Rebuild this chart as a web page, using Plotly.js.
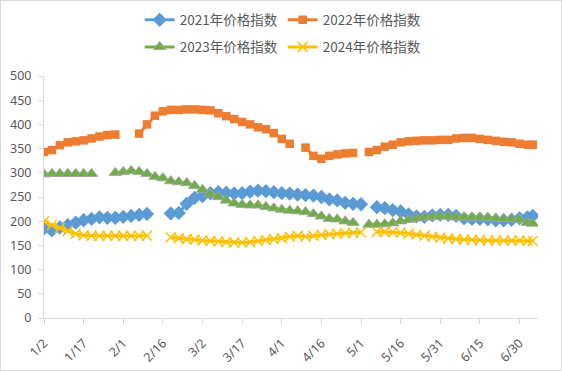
<!DOCTYPE html>
<html>
<head>
<meta charset="utf-8">
<script src="https://cdn.plot.ly/plotly-3.0.1.min.js"></script>
<style>
html,body{margin:0;padding:0;background:#fff;}
#wrap{position:relative;width:562px;height:371px;}
#chart{width:562px;height:371px;}
#frame{position:absolute;left:0;top:0;width:562px;height:371px;box-sizing:border-box;border:1px solid #D9D9D9;pointer-events:none;}
</style>
</head>
<body>
<div id="wrap"><div id="chart"></div><div id="frame"></div></div>
<script>
// Category dates (month/day) shared by all series
const dates = ['1/2','1/5','1/8','1/11','1/14','1/17','1/20','1/23','1/26','1/29','2/1','2/4','2/7','2/10','2/13','2/16','2/19','2/22','2/25','2/28','3/2','3/5','3/8','3/11','3/14','3/17','3/20','3/23','3/26','3/29','4/1','4/4','4/7','4/10','4/13','4/16','4/19','4/22','4/25','4/28','5/1','5/4','5/7','5/10','5/13','5/16','5/19','5/22','5/25','5/28','5/31','6/3','6/6','6/9','6/12','6/15','6/18','6/21','6/24','6/27','6/30','7/3','7/5'];

const names = ['2021年价格指数','2022年价格指数','2023年价格指数','2024年价格指数'];

const idx2021 = [185,181,187,192,197,202,205,208,207,207,209,211,213,215,null,null,216,217,236,248,252,258,260,259,257,258,261,263,262,260,258,257,255,254,253,250,245,243,238,236,235,null,229,227,223,220,214,210,209,212,213,213,211,206,205,205,204,202,202,203,206,208,211];
const idx2022 = [343,347,357,363,365,367,371,375,378,379,null,null,381,400,418,427,430,430,431,431,430,429,423,417,411,405,400,394,390,382,370,360,null,352,335,329,335,338,340,341,null,343,347,354,358,363,365,366,367,367,368,368,371,372,372,370,368,366,364,363,360,358,358];
const idx2023 = [297,298,298,298,298,298,298,null,null,300,302,304,302,298,292,289,283,281,279,273,265,256,250,243,237,234,233,233,230,227,224,222,221,219,215,210,205,204,200,197,null,193,193,194,196,200,203,206,208,209,210,210,208,208,208,208,207,206,205,205,203,197,195];
const idx2024 = [200,192,186,180,174,171,170,170,170,170,170,170,170,170,null,null,167,165,163,162,160,159,158,157,156,156,157,159,161,163,165,168,170,168,170,172,173,174,175,176,177,null,178,178,177,176,174,172,170,168,166,164,163,162,161,161,160,160,160,160,160,159,159];

const tickLabels = ['1/2','1/17','2/1','2/16','3/2','3/17','4/1','4/16','5/1','5/16','5/31','6/15','6/30'];

function toDate(md){
  const p = md.split('/');
  return '2024-' + String(p[0]).padStart(2,'0') + '-' + String(p[1]).padStart(2,'0');
}
const xs = dates.map(toDate);

const traces = [
  {x: xs, y: idx2021, name: names[0], type:'scatter', mode:'lines+markers',
   line:{color:'#5B9BD5', width:3},
   marker:{symbol:'diamond', size:11, color:'#5B9BD5'}, legend:'legend'},
  {x: xs, y: idx2022, name: names[1], type:'scatter', mode:'lines+markers',
   line:{color:'#ED7D31', width:3},
   marker:{symbol:'square', size:8.5, color:'#ED7D31'}, legend:'legend'},
  {x: xs, y: idx2023, name: names[2], type:'scatter', mode:'lines+markers',
   line:{color:'#70AD47', width:3},
   marker:{symbol:'triangle-up', size:11, color:'#70AD47', line:{color:'#A5A5A5', width:0.8}}, legend:'legend2'},
  {x: xs, y: idx2024, name: names[3], type:'scatter', mode:'lines+markers',
   line:{color:'#FFC000', width:3},
   marker:{symbol:'x-thin', size:10, color:'#FFC000', line:{color:'#FFC000', width:1.5}}, legend:'legend2'}
];

const tickFont = {family:'"Noto Sans", "Noto Sans CJK SC", sans-serif', size:12.5, color:'#595959'};
const legFont = {family:'"Noto Sans CJK SC", "Noto Sans", sans-serif', size:13.5, color:'#595959'};

const layout = {
  width:562, height:371,
  margin:{l:44, r:24, t:76, b:53},
  paper_bgcolor:'#FFFFFF', plot_bgcolor:'#FFFFFF',
  showlegend:true,
  legend:{orientation:'h', xref:'container', yref:'container', x:0.503, xanchor:'center', y:0.946, yanchor:'middle',
          font:legFont, bgcolor:'rgba(0,0,0,0)', tracegroupgap:0},
  legend2:{orientation:'h', xref:'container', yref:'container', x:0.503, xanchor:'center', y:0.873, yanchor:'middle',
          font:legFont, bgcolor:'rgba(0,0,0,0)', tracegroupgap:0},
  xaxis:{type:'date', range:['2024-01-02','2024-07-07'],
         tickmode:'array', tickvals: tickLabels.map(toDate), ticktext: tickLabels,
         tickangle:-45, tickfont:tickFont, ticklabelstandoff:7,
         showgrid:false, zeroline:false, showline:true, linecolor:'#D9D9D9', linewidth:1,
         ticks:'outside', ticklen:5, tickcolor:'#D9D9D9'},
  yaxis:{range:[0,500], tickmode:'linear', tick0:0, dtick:50, tickfont:tickFont, ticklabelstandoff:4,
         showgrid:false, zeroline:false, showline:true, linecolor:'#D9D9D9', linewidth:1,
         ticks:'outside', ticklen:5, tickcolor:'#D9D9D9'}
};

Plotly.newPlot('chart', traces, layout, {displayModeBar:false, staticPlot:true});
</script>
</body>
</html>
